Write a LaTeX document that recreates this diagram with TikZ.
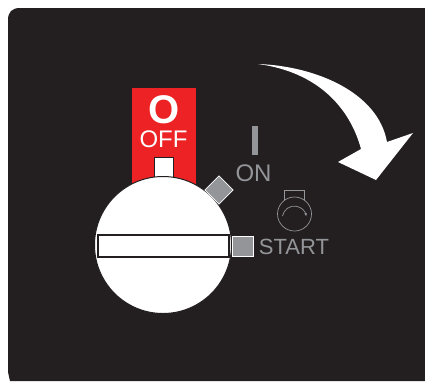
\documentclass[tikz,border=0pt]{standalone}
\usepackage{fontspec}
\setmainfont{Liberation Sans}
\usepackage{xcolor}
\definecolor{paneldark}{RGB}{35, 31, 32}
\definecolor{offred}{RGB}{237, 34, 36}
\definecolor{markgray}{RGB}{147, 149, 152}
\usetikzlibrary{
    arrows.meta,
    positioning
}

\begin{document}
\begin{tikzpicture}[
    x=1pt,
    y=-1pt,
    panel/.style={fill=paneldark},
    redtab/.style={fill=offred},
    bigmark/.style={font=\fontsize{40}{40}\selectfont\bfseries, text=white, inner sep=0pt},
    offlabel/.style={font=\fontsize{24}{24}\selectfont, text=white, inner sep=0pt},
    poslabel/.style={font=\fontsize{22}{22}\selectfont, text=markgray, inner sep=0pt},
    pointer/.style={rectangle, fill=white, draw=paneldark, line width=0.8pt, inner sep=0pt},
    knob/.style={circle, fill=white, draw=paneldark, line width=1pt, minimum size=137pt, inner sep=0pt},
    slot/.style={rectangle, fill=white, draw=paneldark, line width=2pt, minimum width=131pt, minimum height=22pt, inner sep=0pt},
    stopmark/.style={rectangle, fill=markgray, draw=white, line width=0.8pt, inner sep=0pt},
    keyicon/.style={draw=markgray, line width=0.7pt}
]
    \useasboundingbox (0,0) rectangle (425,381);
    % panel and red tab
    \fill[panel] (10,381) -- (8,372) -- (8,20) .. controls (8,12) and (12,8) .. (20,8) -- (425,8) -- (425,381) -- cycle;
    \fill[redtab] (132,88) rectangle (196,184);

    \node[bigmark] (offmark) at (164,110) {O};
    \node[offlabel] (off) at (163.5,139) {OFF};
    \node[pointer, minimum width=19pt, minimum height=24pt] (tip) at (163.5,169) {};
    \node[knob] (dial) at (163,245) {};
    \node[slot] (bar) at (163,245.5) {};

    % positions
    \node[stopmark, minimum size=20pt, rotate=45] (onstop) at (219,190) {};
    \node[stopmark, minimum width=21pt, minimum height=20pt] (startstop) at (243,246) {};
    \node[poslabel, font=\fontsize{24}{24}\selectfont] (on) at (253.5,173.5) {ON};
    \node[poslabel] (start) at (294,247) {START};
    \fill[markgray] (252,126) rectangle (258,155);

    % key symbol
    \node[circle, keyicon, minimum size=34pt, inner sep=0pt] (keyring) at (294.5,214) {};
    \draw[keyicon] (keyring.125) -- ++(0,-9) -| (keyring.55);
    \draw[keyicon, -{Stealth[length=3pt,width=3pt]}] (282.5,216) arc[start angle=-170, end angle=-10, x radius=12, y radius=12];

    % turn arrow
    \fill[white] (258,64) .. controls (315,66) and (378,92) .. (387,142)
        -- (413,133) -- (376,180) -- (338,162) -- (361,149)
        .. controls (350,108) and (318,72) .. (258,64) -- cycle;
\end{tikzpicture}
\end{document}
